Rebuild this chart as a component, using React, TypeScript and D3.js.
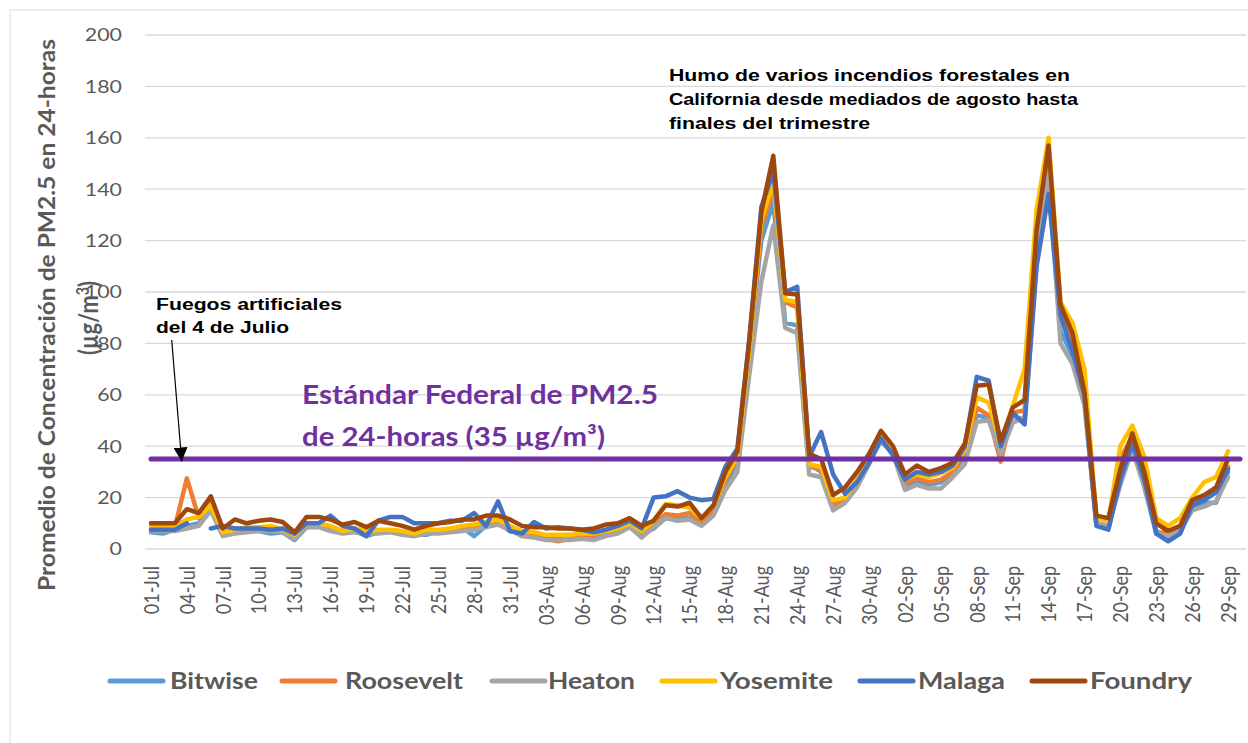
import React from 'react';
import * as d3 from 'd3';

const W = 1248;
const H = 743;

// Categories: 01-Jul .. 30-Sep
const days = d3.timeDay.range(new Date(2020, 6, 1), new Date(2020, 9, 1));
const dayLabels: string[] = days.map((d) => d3.timeFormat('%d-%b')(d));

const yTicks = [0, 20, 40, 60, 80, 100, 120, 140, 160, 180, 200];

const bitwise: (number | null)[] = [
  6.5, 6, 7.5, 9, 10, 16, 5.5, 6.5, 7, 7, 6, 6.5, 3.5, 8.5, 9, 8, 6.5, 7, 5, 6.5,
  7, 6.5, 5.5, 5.5, 7, 7.5, 8.5, 5, 9, 10, 7, 6, 5.5, 5, 5, 5.5, 5.5, 5, 6, 7,
  9, 5.5, 8, 12, 12, 12, 10, 14, 25, 34, 78, 120, 135, 88, 87, 33, 30, 17, 20, 27,
  34, 42, 37, 25, 26, 25, 26, 30, 36, 52, 51, 37, 52, 50, 112, 142, 85, 75, 58, 9,
  8, 28, 38, 26, 7, 4, 7, 16, 18, 18, 30, null,
];
const roosevelt: (number | null)[] = [
  8, 8, 8.5, 27.5, 12, 18, 6, 8, 8, 8.5, 8.5, 7, 5, 9.5, 9.5, 8.5, 7, 7.5, 6.5, 7,
  7, 6.5, 5.5, 6.5, 7, 7.5, 8.5, 9, 10, 11, 8.5, 6, 5, 4, 3, 4, 5, 5.5, 6.5, 7.5,
  9.5, 6, 9.5, 13.5, 13, 14, 10, 15, 27, 35, 77, 125, 140, 96, 94, 32, 31, 17, 20, 26,
  35, 43, 38, 25.5, 27.5, 26, 27, 30, 37, 55, 52, 34, 53, 54, 126, 152, 93, 82, 62, 10,
  9, 35, 44, 32, 6, 7, 9, 17, 20, 23, 32, null,
];
const heaton: (number | null)[] = [
  7, 7, 7, 8, 9, 15, 5, 6, 6.5, 7, 7, 6.5, 4, 8.5, 8.5, 7, 6, 6.5, 6, 6,
  6.5, 5.5, 5, 6, 6, 6.5, 7, 7.5, 8.5, 9.5, 7.5, 5, 4.5, 3.5, 3.5, 3.5, 4, 3.5, 5, 6,
  8.5, 4.5, 8.5, 12, 11, 11.5, 9, 13, 23, 30, 68, 104, 126, 86, 84, 29, 28, 15, 18, 24,
  33, 42.5, 37, 23, 25, 23.5, 23.5, 28, 33, 49.5, 50, 37, 49, 51.5, 116, 146, 80, 72, 56, 10,
  9, 25, 39, 24, 6, 5, 7.5, 15, 16.5, 18.5, 28, null,
];
const yosemite: (number | null)[] = [
  9, 9, 9, 11.5, 12.5, 17, 6.5, 7.5, 8.5, 8.5, 9, 7.5, 5.5, 10, 10, 9, 7, 8, 7, 7.5,
  7.5, 7, 6, 7.5, 7.5, 8, 9, 9.5, 10.5, 11.5, 9, 7, 6.5, 5.5, 5.5, 5.5, 6, 6, 7, 8,
  10, 7, 11, 17.5, 17, 16, 12, 17, 28, 36, 78, 128, 143, 97, 96, 33, 32, 19, 20, 27,
  35, 44, 38.5, 27, 29, 28, 29.5, 31.5, 38.5, 59, 57, 40.5, 55.5, 70, 132, 160, 96, 88, 70, 12,
  11, 40, 48, 36, 12, 9, 12, 20, 26, 28, 38, null,
];
const malaga: (number | null)[] = [
  7.5, 7.5, 7.5, 10, null, 8, 9, 8, 8, 8, 7.5, 8, 6, 10, 10, 13, 9, 8, 5, 11,
  12.5, 12.5, 10, 10, 10, 11, 11, 14, 9, 18.5, 7, 6, 10.5, 8, 8.5, 8, 7.5, 6.5, 7.5, 9,
  11, 8, 20, 20.5, 22.5, 20, 19, 19.5, 32, 39, 82, 133, 147, 100, 102, 36, 45.5, 29, 21.5, 26,
  33.5, 43, 36.5, 27, 30, 29, 30, 32.5, 40, 67, 65.5, 40, 53, 48.5, 110, 138, 91, 77, 60, 9,
  7.5, 27, 41, 27, 6, 3, 6, 17, 19, 22, 31, null,
];
const foundry: (number | null)[] = [
  10, 10, 10, 15.5, 14, 20.5, 8, 11.5, 10, 11, 11.5, 10.5, 6.5, 12.5, 12.5, 11.5, 9.5, 10.5, 8.5, 11,
  10, 9, 7.5, 9, 10, 10.5, 11.5, 11.5, 13, 13, 11.5, 9, 8.5, 8.5, 8, 8, 7.5, 8, 9.5, 10,
  12, 9, 11, 17, 16.5, 18, 12, 17, 30, 38, 81, 131, 153, 99.5, 99, 37, 35, 21, 24, 30,
  37, 46, 40, 29, 32.5, 30, 31.5, 33.5, 41, 63.5, 64, 42, 55, 58, 124, 157, 95, 84, 61, 13,
  12, 31, 45, 30, 10, 7, 9, 19, 21, 24, 35, null,
];
const standardValue = 35;

const seriesNames = ['Bitwise', 'Roosevelt', 'Heaton', 'Yosemite', 'Malaga', 'Foundry'];
const seriesColors = ['#5B9BD5', '#ED7D31', '#A5A5A5', '#FFC000', '#4472C4', '#9E480E'];
const seriesData = [bitwise, roosevelt, heaton, yosemite, malaga, foundry];

export default function App() {
  const x = d3.scaleBand<string>().domain(dayLabels).range([145, 1246]).paddingInner(0).paddingOuter(0);
  const cx = (i: number) => (x(dayLabels[i]) as number) + x.bandwidth() / 2;
  const y = d3.scaleLinear().domain([0, 200]).range([549, 35]);

  const line = d3
    .line<number | null>()
    .defined((d) => d != null)
    .x((_, i) => cx(i))
    .y((d) => y(d as number));

  const standard = dayLabels.map(() => standardValue);

  const legendLines = [108, 280, 490, 660, 858, 1030];
  const legendTextX = [170, 345, 548, 720, 918, 1090];
  const legendTextW = [88, 118, 87, 113, 87, 102];

  const grey = '#595959';

  return (
    <svg width={W} height={H} style={{ position: 'absolute', left: 0, top: 0, background: '#fff' }}>
      <rect x={10} y={10} width={1260} height={760} fill="#fff" stroke="#D9D9D9" strokeWidth={1} />
      {/* gridlines */}
      {yTicks.map((t) => (
        <line key={t} x1={145} x2={1246} y1={y(t)} y2={y(t)} stroke="#D9D9D9" strokeWidth={1.3} />
      ))}
      {/* y tick labels */}
      {yTicks.map((t) => (
        <text
          key={'yl' + t}
          transform={`translate(122,${y(t)}) scale(1.22,1)`}
          textAnchor="end"
          dy="0.36em"
          fontFamily="Lato, 'Open Sans', sans-serif"
          fontSize={17.5}
          fill={grey}
        >
          {t}
        </text>
      ))}
      {/* x tick labels */}
      {dayLabels.map((l, i) =>
        i % 3 === 0 ? (
          <text
            key={'xl' + l}
            transform={`translate(${cx(i)},566) scale(1.2,1) rotate(-90)`}
            textAnchor="end"
            dy="0.36em"
            fontFamily="Lato, 'Open Sans', sans-serif"
            fontSize={18}
            fill={grey}
          >
            {l}
          </text>
        ) : null
      )}
      {/* axis title */}
      <text
        transform="translate(55,315) scale(1.3,1) rotate(-90)"
        textAnchor="middle"
        fontFamily="Lato, 'Open Sans', sans-serif"
        fontWeight="bold"
        fontSize={17}
        fill={grey}
        textLength={552}
        lengthAdjust="spacingAndGlyphs"
      >
        Promedio de Concentración de PM2.5 en 24-horas
      </text>
      <text
        transform="translate(98,318) scale(1.3,1) rotate(-90)"
        textAnchor="middle"
        fontFamily="Lato, 'Open Sans', sans-serif"
        fontWeight="bold"
        fontSize={20}
        fill={grey}
        textLength={74}
        lengthAdjust="spacingAndGlyphs"
      >
        (µg/m<tspan dy="-7" fontSize={13}>3</tspan>
        <tspan dy="7">)</tspan>
      </text>
      {/* series */}
      {seriesData.map((s, k) => (
        <path
          key={seriesNames[k]}
          d={line(s) || ''}
          fill="none"
          stroke={seriesColors[k]}
          strokeWidth={4.5}
          strokeLinejoin="round"
          strokeLinecap="round"
        />
      ))}
      {/* federal standard */}
      <path
        d={line(standard) || ''}
        fill="none"
        stroke="#7030A0"
        strokeWidth={5}
        strokeLinecap="round"
      />
      {/* annotations */}
      <g fontFamily="'Liberation Sans', Arial, sans-serif" fontWeight="bold" fontSize={16} fill="#000">
        <text x={669} y={81} textLength={401} lengthAdjust="spacingAndGlyphs">
          Humo de varios incendios forestales en
        </text>
        <text x={669} y={105} textLength={409} lengthAdjust="spacingAndGlyphs">
          California desde mediados de agosto hasta
        </text>
        <text x={669} y={129} textLength={201} lengthAdjust="spacingAndGlyphs">
          finales del trimestre
        </text>
        <text x={156} y={310} textLength={186} lengthAdjust="spacingAndGlyphs">
          Fuegos artificiales
        </text>
        <text x={156} y={333} textLength={133} lengthAdjust="spacingAndGlyphs">
          del 4 de Julio
        </text>
      </g>
      <defs>
        <marker id="arrow" viewBox="0 0 10 10" refX={10} refY={5} markerWidth={14} markerHeight={14} markerUnits="userSpaceOnUse" orient="auto">
          <path d="M0,0 L10,5 L0,10 z" fill="#000" />
        </marker>
      </defs>
      <line x1={171.7} y1={340} x2={181.7} y2={461.5} stroke="#000" strokeWidth={1.2} markerEnd="url(#arrow)" />
      <g fontFamily="Lato, 'Open Sans', sans-serif" fontWeight="bold" fontSize={26} fill="#7030A0">
        <text x={302} y={404} textLength={356} lengthAdjust="spacingAndGlyphs">
          Estándar Federal de PM2.5
        </text>
        <text x={302} y={446} textLength={303} lengthAdjust="spacingAndGlyphs">
          de 24-horas (35 µg/m³)
        </text>
      </g>
      {/* legend */}
      {seriesNames.map((n, k) => (
        <g key={'lg' + n}>
          <line
            x1={legendLines[k] + 2}
            x2={legendLines[k] + 55}
            y1={681}
            y2={681}
            stroke={seriesColors[k]}
            strokeWidth={5}
            strokeLinecap="round"
          />
          <text
            x={legendTextX[k]}
            y={681}
            dy="0.36em"
            fontFamily="Lato, 'Open Sans', sans-serif"
            fontWeight="bold"
            fontSize={22}
            fill={grey}
            textLength={legendTextW[k]}
            lengthAdjust="spacingAndGlyphs"
          >
            {n}
          </text>
        </g>
      ))}
    </svg>
  );
}
